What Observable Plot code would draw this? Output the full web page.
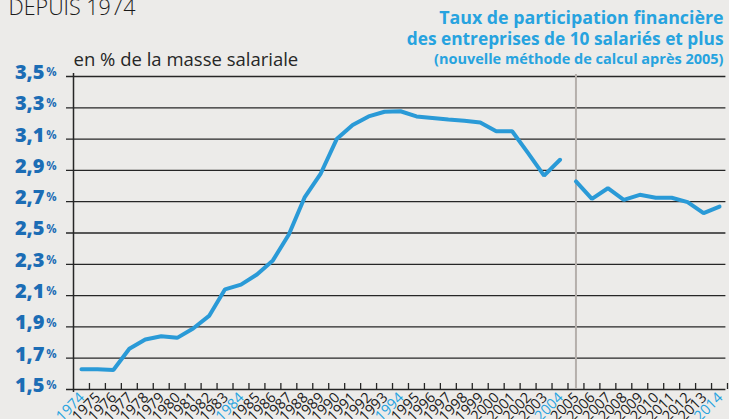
<!DOCTYPE html>
<html><head><meta charset="utf-8">
<script src="https://cdn.jsdelivr.net/npm/d3@7"></script>
<script src="https://cdn.jsdelivr.net/npm/@observablehq/plot@0.6"></script>
<style>
html,body{margin:0;padding:0;background:#ecebe9;overflow:hidden;}
#chart{width:729px;height:419px;}
</style></head><body><div id="chart"></div>
<script>
// ---- data ----
const yearsOld = [1974,1975,1976,1977,1978,1979,1980,1981,1982,1983,1984,1985,1986,1987,1988,1989,1990,1991,1992,1993,1994,1995,1996,1997,1998,1999,2000,2001,2002,2003,2004];
const valuesOld = [1.63,1.63,1.625,1.76,1.82,1.84,1.83,1.89,1.97,2.14,2.17,2.235,2.325,2.49,2.73,2.88,3.10,3.19,3.245,3.275,3.278,3.245,3.235,3.225,3.217,3.206,3.15,3.15,3.01,2.867,2.968];
const yearsNew = [2005,2006,2007,2008,2009,2010,2011,2012,2013,2014];
const valuesNew = [2.83,2.718,2.786,2.712,2.744,2.725,2.725,2.697,2.627,2.669];
const yTicks = [1.5,1.7,1.9,2.1,2.3,2.5,2.7,2.9,3.1,3.3,3.5];
const xLabelYears = [1974,1975,1976,1977,1978,1979,1980,1981,1982,1983,1984,1985,1986,1987,1988,1989,1990,1991,1992,1993,1994,1995,1996,1997,1998,1999,2000,2001,2002,2003,2004,2005,2006,2007,2008,2009,2010,2011,2012,2013,2014];
const highlightYears = [1974,1984,1994,2004,2014];
const methodBreakYear = [2005];
const titleText = "DEPUIS 1974";
const unitText = "en % de la masse salariale";
const seriesTitle = ["Taux de participation financière","des entreprises de 10 salariés et plus"];
const seriesNote = "(nouvelle méthode de calcul après 2005)";

// ---- styles ----
const cyan = "#27a3df";
const lineColor = "#2a9ad7";
const blue = "#1c6db5";
const ink = "#262626";
const font = "'Open Sans', Lato, sans-serif";

const oldData = yearsOld.map((year, i) => ({year, value: valuesOld[i]}));
const newData = yearsNew.map((year, i) => ({year, value: valuesNew[i]}));
const tickBounds = [xLabelYears[0] - 0.5, ...xLabelYears.map(y => y + 0.5)];
const xDomain = [tickBounds[0], tickBounds[tickBounds.length - 1]];

const chart = Plot.plot({
  width: 729, height: 419,
  marginLeft: 73, marginRight: 2, marginTop: 76, marginBottom: 30,
  x: {domain: xDomain, axis: null},
  y: {domain: [yTicks[0], yTicks[yTicks.length - 1]], axis: null},
  color: {type: "identity"},
  style: {background: "#ecebe9", fontFamily: font, overflow: "visible"},
  marks: [
    Plot.ruleY(yTicks, {y: d => d, x1: xDomain[0], x2: xDomain[1] - 0.1, insetLeft: -7, stroke: ink, strokeWidth: 1.3}),
    Plot.ruleX(tickBounds.slice(1), {x: d => d, y1: yTicks[0], y2: yTicks[0], insetTop: -6, stroke: ink, strokeWidth: 1.3}),
    Plot.ruleX([xDomain[0]], {x: d => d, insetTop: -3, insetBottom: -3, stroke: ink, strokeWidth: 1.5}),
    Plot.ruleX(methodBreakYear, {x: d => d, insetTop: -2, stroke: "#b5afab", strokeWidth: 2}),
    Plot.line(oldData, {x: "year", y: "value", stroke: lineColor, strokeWidth: 4, strokeLinejoin: "miter"}),
    Plot.line(newData, {x: "year", y: "value", stroke: lineColor, strokeWidth: 4, strokeLinejoin: "miter"}),
    // y labels
    Plot.text(yTicks, {y: d => d, frameAnchor: "left", text: d => d.toFixed(1).replace(".", ","), textAnchor: "end", dx: -29, dy: -4, fontSize: 20, fontWeight: 800, fill: blue}),
    Plot.text(yTicks, {y: d => d, frameAnchor: "left", text: () => "%", textAnchor: "end", dx: -17, dy: -4, fontSize: 11.5, fontWeight: 700, fill: blue}),
    // x labels
    Plot.text(xLabelYears, {x: d => d, frameAnchor: "bottom", text: d => String(d), rotate: -45, textAnchor: "end", lineAnchor: "bottom", dx: 4, dy: 9, fontSize: 14.5, fontWeight: 500, fill: d => highlightYears.includes(d) ? cyan : "#1a1a1a"}),
    // titles
    Plot.text([titleText], {frameAnchor: "top-left", text: d => d, textAnchor: "start", lineAnchor: "bottom", dx: -65, dy: -62, fontSize: 21.5, fontWeight: 300, fill: "#1a1a1a"}),
    Plot.text([unitText], {frameAnchor: "top-left", text: d => d, textAnchor: "start", lineAnchor: "bottom", dx: 0, dy: -11, fontSize: 18.5, fill: ink}),
    Plot.text([seriesTitle[0]], {frameAnchor: "top-right", text: d => d, textAnchor: "end", lineAnchor: "bottom", dx: -4, dy: -53, fontSize: 17.8, fontWeight: 700, fill: cyan}),
    Plot.text([seriesTitle[1]], {frameAnchor: "top-right", text: d => d, textAnchor: "end", lineAnchor: "bottom", dx: -4, dy: -32, fontSize: 17.3, fontWeight: 700, fill: cyan}),
    Plot.text([seriesNote], {frameAnchor: "top-right", text: d => d, textAnchor: "end", lineAnchor: "bottom", dx: -4, dy: -13, fontSize: 14.5, fontWeight: 700, fill: cyan})
  ]
});
document.getElementById("chart").appendChild(chart);
</script>
</body></html>
